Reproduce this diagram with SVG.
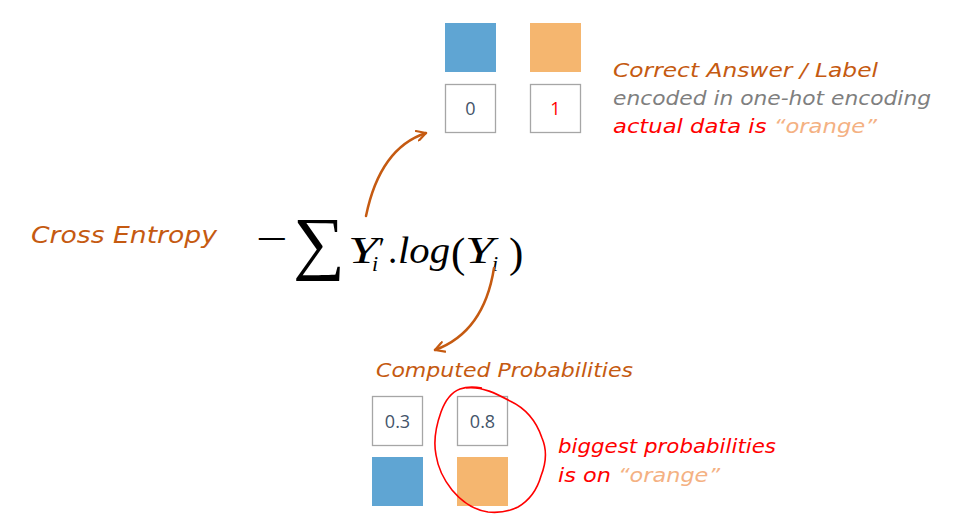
<svg xmlns="http://www.w3.org/2000/svg" width="964" height="531" viewBox="0 0 964 531">
<style>
.hand{font-family:"DejaVu Sans","Liberation Sans",sans-serif;font-style:italic;font-size:20px}
.brown{fill:#C55A11}
.gray{fill:#7F7F7F}
.red{fill:#FF0000}
.lorange{fill:#F4B183}
.box{fill:#ffffff;stroke:#A6A6A6;stroke-width:1.3}
.blue{fill:#5FA5D3}
.org{fill:#F5B66F}
.num{font-family:"Open Sans","DejaVu Sans",sans-serif;font-size:18px;fill:#44546A;text-anchor:middle}
.math{font-family:"Liberation Serif","DejaVu Serif",serif;fill:#000}
.it{font-style:italic}
.conn{fill:none;stroke:#C55A11;stroke-width:2.5;stroke-linecap:round}
</style>
<defs>
<marker id="arr" viewBox="0 0 12 12" refX="10" refY="6" markerWidth="12" markerHeight="12" markerUnits="userSpaceOnUse" orient="auto">
<path d="M1,1 L10,6 L1,11" fill="none" stroke="#C55A11" stroke-width="2.2" stroke-linejoin="round" stroke-linecap="round"/>
</marker>
</defs>
<rect width="964" height="531" fill="#ffffff"/>

<g id="label-correct">
<rect class="blue" x="445" y="23" width="51" height="49"/>
<rect class="org" x="530" y="23" width="51" height="49"/>
<rect class="box" x="445.5" y="84.5" width="50" height="48"/>
<rect class="box" x="530.5" y="84.5" width="50" height="48"/>
<text class="num" x="470.5" y="115">0</text>
<text class="num" x="555.5" y="115" style="fill:#FF0000">1</text>
</g>

<g id="label-text">
<text class="hand brown" x="613" y="77" textLength="265" lengthAdjust="spacingAndGlyphs">Correct Answer / Label</text>
<text class="hand gray" x="613" y="105" textLength="318" lengthAdjust="spacingAndGlyphs">encoded in one-hot encoding</text>
<text class="hand" x="613" y="133" textLength="264" lengthAdjust="spacingAndGlyphs"><tspan class="red">actual data is </tspan><tspan class="lorange">“orange”</tspan></text>
</g>

<g id="cross-entropy">
<text class="hand brown" x="31" y="243" style="font-size:23px" textLength="186" lengthAdjust="spacingAndGlyphs">Cross Entropy</text>
</g>

<g id="formula">
<text class="math" transform="translate(256,252) scale(1.4,1)" style="font-size:40px">−</text>
<text class="math" x="293" y="266" style="font-size:70px" textLength="52" lengthAdjust="spacingAndGlyphs">∑</text>
<text class="math it" x="348" y="263" style="font-size:37px" textLength="30" lengthAdjust="spacingAndGlyphs">Y</text>
<text class="math it" x="377" y="257" style="font-size:28px">′</text>
<text class="math it" x="372" y="271" style="font-size:22px">i</text>
<text class="math" x="388" y="263" style="font-size:37px">.</text>
<text class="math it" x="398" y="263" style="font-size:37px" textLength="52" lengthAdjust="spacingAndGlyphs">log</text>
<text class="math" x="451" y="267" style="font-size:43px">(</text>
<text class="math it" x="465" y="263" style="font-size:37px" textLength="29" lengthAdjust="spacingAndGlyphs">Y</text>
<text class="math it" x="492" y="271" style="font-size:22px">i</text>
<text class="math" x="509" y="267" style="font-size:43px">)</text>
</g>

<g id="computed">
<text class="hand brown" x="376" y="377" textLength="257" lengthAdjust="spacingAndGlyphs">Computed Probabilities</text>
<rect class="box" x="372.5" y="396.5" width="50" height="49"/>
<rect class="box" x="457.5" y="396.5" width="50" height="49"/>
<text class="num" x="397.5" y="428">0.3</text>
<text class="num" x="482.5" y="428">0.8</text>
<rect class="blue" x="372" y="457" width="51" height="49"/>
<rect class="org" x="457" y="457" width="51" height="49"/>
</g>

<g id="highlight">
<path d="M466,388 C482,386 497,394 510,401 C525,408 536,420 542,438 C548,452 545,466 541,476 C537,490 530,500 518,507 C508,512 498,513 488,512 C474,510 462,502 452,490 C444,480 438,468 436,455 C433,440 436,426 441,412 C445,401 452,392 460,389 C468,386 476,387 482,388" fill="none" stroke="#FF0000" stroke-width="1.6"/>
<text class="hand red" x="558" y="453" textLength="218" lengthAdjust="spacingAndGlyphs">biggest probabilities</text>
<text class="hand" x="558" y="482" textLength="162" lengthAdjust="spacingAndGlyphs"><tspan class="red">is on </tspan><tspan class="lorange">“orange”</tspan></text>
</g>

<g id="connectors">
<path class="conn" d="M366,216 Q380,148 426,133" marker-end="url(#arr)"/>
<path class="conn" d="M494,268 Q484,332 435,350" marker-end="url(#arr)"/>
</g>
</svg>
